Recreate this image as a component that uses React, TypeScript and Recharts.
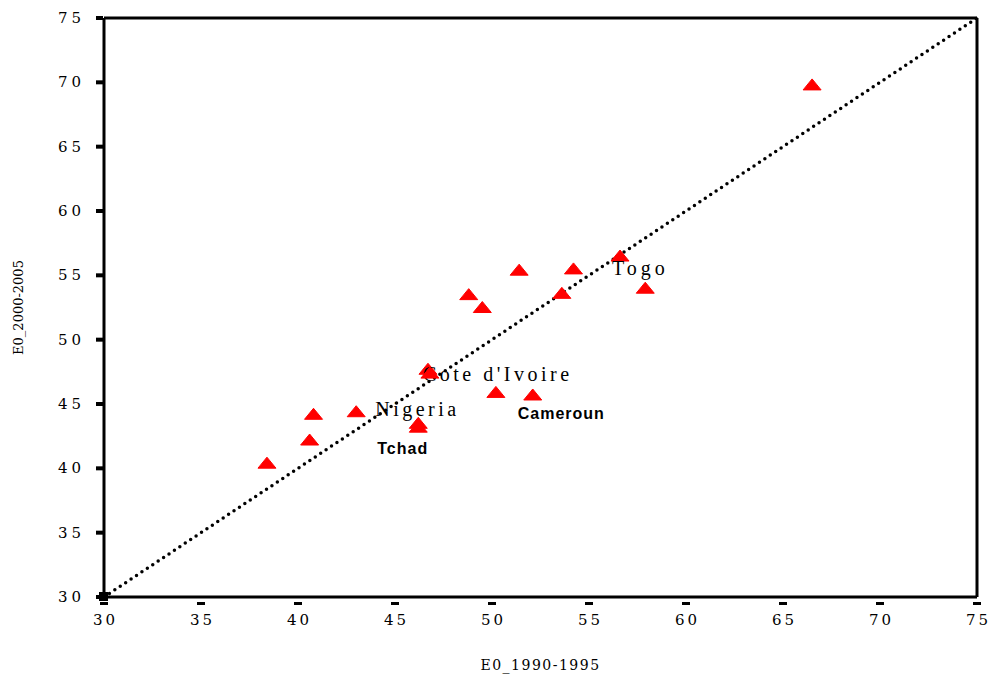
import React from "react";
import { ScatterChart, Scatter, XAxis, YAxis, ReferenceLine, ReferenceDot } from "recharts";

const countries = ["", "", "", "Nigeria", "Tchad", "", "Cote d'Ivoire", "", "", "Cameroun", "", "", "", "", "", "Togo", "", ""];
const e0_1990_1995 = [38.4, 40.6, 40.8, 43.0, 46.2, 46.2, 46.7, 46.8, 50.2, 52.1, 48.8, 49.5, 51.4, 54.2, 53.6, 56.6, 57.9, 66.5];
const e0_2000_2005 = [40.4, 42.2, 44.2, 44.4, 43.2, 43.5, 47.7, 47.4, 45.9, 45.7, 53.5, 52.5, 55.4, 55.5, 53.6, 56.5, 54.0, 69.8];
const ticks = [30, 35, 40, 45, 50, 55, 60, 65, 70, 75];

const data = e0_1990_1995.map((x, i) => ({
  x,
  y: e0_2000_2005[i],
  name: countries[i],
}));

const serifLbl = "'Liberation Serif', serif";
const sansLbl = "'Liberation Sans', sans-serif";
const labelStyle: Record<string, { dx: number; dy: number; font: string; size: number; weight: number; ls: number }> = {
  Togo: { dx: -8, dy: 19, font: serifLbl, size: 20, weight: 400, ls: 4 },
  "Cote d'Ivoire": { dx: -5, dy: 12, font: serifLbl, size: 20, weight: 400, ls: 3.5 },
  Nigeria: { dx: 19, dy: 4, font: serifLbl, size: 20, weight: 400, ls: 3.5 },
  Cameroun: { dx: -15, dy: 24, font: sansLbl, size: 16, weight: 700, ls: 1 },
  Tchad: { dx: -41, dy: 27, font: sansLbl, size: 16, weight: 700, ls: 1 },
};

const Triangle = (props: any) => {
  const { cx, cy, payload } = props;
  const st = payload && payload.name ? labelStyle[payload.name] : null;
  return (
    <g>
      <polygon
        points={`${cx - 9},${cy + 5} ${cx + 9},${cy + 5} ${cx},${cy - 6}`}
        fill="#ff0000"
        stroke="#ff0000"
        strokeWidth={1}
      />
      {st ? (
        <text
          x={cx + st.dx}
          y={cy + st.dy}
          fontFamily={st.font}
          fontSize={st.size}
          fontWeight={st.weight}
          letterSpacing={st.ls}
          fill="#000"
        >
          {payload.name}
        </text>
      ) : null}
    </g>
  );
};

const tickFont = "'DejaVu Serif', serif";

const XTick = (props: any) => {
  const { x, y, payload } = props;
  return (
    <g>
      <rect x={x - 4} y={y + 5} width={8} height={3} fill="#000" />
      <text x={x + 1.5} y={y + 28} textAnchor="middle" fontFamily={tickFont} fontSize={15} letterSpacing={3} fill="#000">
        {payload.value}
      </text>
    </g>
  );
};

const YTick = (props: any) => {
  const { x, y, payload } = props;
  return (
    <g>
      <rect x={x - 8} y={y - 2} width={7} height={4} fill="#000" />
      <text x={x - 19} y={y + 5} textAnchor="end" fontFamily={tickFont} fontSize={15} letterSpacing={4} fill="#000">
        {payload.value}
      </text>
    </g>
  );
};

export default function App() {
  return (
    <div style={{ position: "absolute", left: 0, top: 0, width: 990, height: 682 }}>
      <ScatterChart
        width={990}
        height={682}
        margin={{ top: 18, right: 13, bottom: 0, left: 0 }}
        style={{ overflow: "visible" }}
      >
        <XAxis
          type="number"
          dataKey="x"
          domain={[30, 75]}
          ticks={ticks}
          allowDataOverflow
          height={85}
          tickSize={0}
          tickMargin={0}
          tick={<XTick />}
          axisLine={{ stroke: "#000", strokeWidth: 3 }}
          label={{
            value: "E0_1990-1995",
            position: "insideBottom",
            offset: 12,
            style: { fontFamily: "'DejaVu Serif', serif", fontSize: 14, letterSpacing: 1.5, fill: "#000" },
          }}
        />
        <YAxis
          type="number"
          dataKey="y"
          domain={[30, 75]}
          ticks={ticks}
          allowDataOverflow
          width={104}
          tickSize={0}
          tickMargin={0}
          tick={<YTick />}
          axisLine={{ stroke: "#000", strokeWidth: 3 }}
          label={{
            value: "E0_2000-2005",
            angle: -90,
            position: "insideLeft",
            offset: 18,
            style: { fontFamily: "'DejaVu Serif', serif", fontSize: 13, fill: "#000", textAnchor: "middle" },
          }}
        />
        <ReferenceLine y={75} stroke="#000" strokeWidth={3} />
        <ReferenceLine x={75} stroke="#000" strokeWidth={3} />
        <ReferenceLine
          segment={[{ x: 30, y: 30 }, { x: 75, y: 75 }]}
          stroke="#000"
          strokeWidth={3.5}
          strokeDasharray="0 6.5"
          strokeLinecap="round"
        />
        <ReferenceDot
          x={30}
          y={30}
          ifOverflow="visible"
          shape={(p: any) => <rect x={p.cx - 5} y={p.cy - 5} width={9} height={9} fill="#000" />}
        />
        <Scatter data={data} shape={<Triangle />} isAnimationActive={false} />
      </ScatterChart>
    </div>
  );
}
